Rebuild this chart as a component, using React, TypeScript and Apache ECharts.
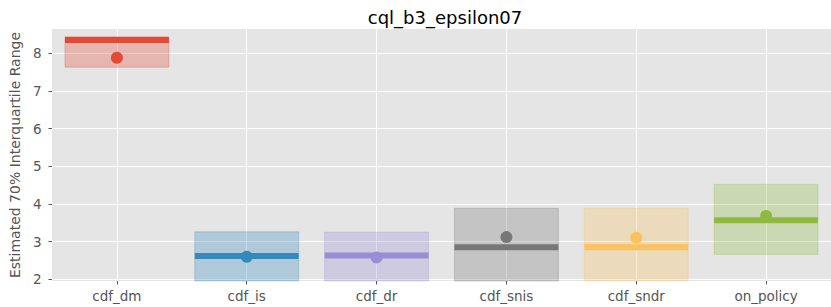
import React, { useEffect, useRef } from "react";
import * as echarts from "echarts";

const categories = ["cdf_dm", "cdf_is", "cdf_dr", "cdf_snis", "cdf_sndr", "on_policy"];
const lowerQ = [7.63, 1.9, 1.9, 1.9, 1.9, 2.66];
const upperQ = [8.44, 3.26, 3.25, 3.885, 3.885, 4.52];
const medianV = [8.35, 2.62, 2.63, 2.85, 2.85, 3.57];
const meanV = [7.88, 2.6, 2.58, 3.12, 3.1, 3.68];
const yTicks = [2, 3, 4, 5, 6, 7, 8];

const colors = ["#E24A33", "#348ABD", "#988ED5", "#777777", "#FBC15E", "#8EBA42"];

function hexA(hex: string, a: number) {
  const r = parseInt(hex.slice(1, 3), 16);
  const g = parseInt(hex.slice(3, 5), 16);
  const b = parseInt(hex.slice(5, 7), 16);
  return `rgba(${r},${g},${b},${a})`;
}

const FONT = "DejaVu Sans";

export default function App() {
  const ref = useRef<HTMLDivElement>(null);
  useEffect(() => {
    document.body.style.margin = "0";
    const chart = echarts.init(ref.current!, null, { renderer: "svg" });
    const data = categories.map((_, i) => [i, lowerQ[i], upperQ[i], medianV[i], meanV[i]]);
    chart.setOption({
      animation: false,
      backgroundColor: "#ffffff",
      title: {
        text: "cql_b3_epsilon07",
        left: 440,
        textAlign: "center",
        top: 3,
        textStyle: { fontFamily: FONT, fontSize: 18, fontWeight: "normal", color: "#000" },
      },
      grid: { left: 50, right: 0, top: 29, bottom: 26, show: true, backgroundColor: "#E5E5E5", borderWidth: 0 },
      xAxis: {
        type: "category",
        data: categories,
        axisLine: { show: false },
        axisTick: { show: true, alignWithLabel: true, length: 3.5, lineStyle: { color: "#555" } },
        axisLabel: { fontFamily: FONT, fontSize: 13.5, color: "#555", margin: 8 },
        splitLine: { show: true, alignWithLabel: true, lineStyle: { color: "#fff", width: 1 } },
      },
      yAxis: {
        type: "value",
        min: 1.955,
        max: 8.645,
        name: "Estimated 70% Interquartile Range",
        nameLocation: "middle",
        nameGap: 24,
        nameTextStyle: { fontFamily: FONT, fontSize: 14, color: "#555" },
        axisLine: { show: false },
        axisTick: { show: true, length: 3.5, lineStyle: { color: "#555" }, customValues: yTicks },
        axisLabel: { fontFamily: FONT, fontSize: 13.5, color: "#555", margin: 10.5, customValues: yTicks },
        splitLine: { show: true, lineStyle: { color: "#fff", width: 1 } },
      },
      series: [
        {
          type: "custom",
          data,
          encode: { x: 0, y: [1, 2, 3, 4] },
          renderItem: (params: any, api: any) => {
            const i = api.value(0);
            const c = colors[i];
            const lo = api.coord([i, api.value(1)]);
            const hi = api.coord([i, api.value(2)]);
            const med = api.coord([i, api.value(3)]);
            const mean = api.coord([i, api.value(4)]);
            const bw = api.size([1, 0])[0] * 0.8;
            const cs = params.coordSys;
            const rect = echarts.graphic.clipRectByRect(
              { x: lo[0] - bw / 2, y: hi[1], width: bw, height: lo[1] - hi[1] },
              { x: cs.x, y: cs.y, width: cs.width, height: cs.height }
            );
            return {
              type: "group",
              children: [
                {
                  type: "rect",
                  shape: rect,
                  style: { fill: hexA(c, 0.3), stroke: hexA(c, 0.3), lineWidth: 1 },
                },
                {
                  type: "line",
                  shape: { x1: lo[0] - bw / 2, x2: lo[0] + bw / 2, y1: med[1], y2: med[1] },
                  style: { stroke: c, lineWidth: 6 },
                },
                {
                  type: "circle",
                  shape: { cx: mean[0], cy: mean[1], r: 6 },
                  style: { fill: c },
                },
              ],
            };
          },
        },
      ],
    });
    return () => chart.dispose();
  }, []);
  return <div ref={ref} style={{ width: 831, height: 307 }} />;
}
